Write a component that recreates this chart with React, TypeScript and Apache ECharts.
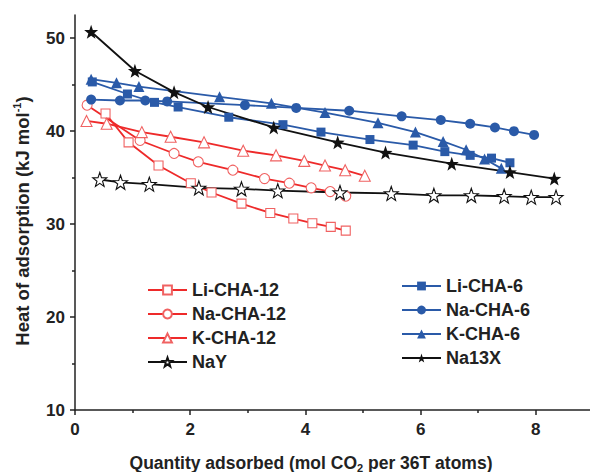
import React, { useEffect, useRef } from "react";
import * as echarts from "echarts";

const li12X = [0.53, 0.93, 1.45, 2.01, 2.37, 2.89, 3.39, 3.79, 4.12, 4.44, 4.70];
const li12Y = [41.9, 38.8, 36.3, 34.4, 33.4, 32.2, 31.2, 30.6, 30.1, 29.7, 29.3];
const na12X = [0.21, 1.13, 1.72, 2.14, 2.74, 3.29, 3.72, 4.10, 4.43, 4.70];
const na12Y = [42.8, 39.0, 37.6, 36.7, 35.8, 34.9, 34.4, 33.9, 33.5, 33.0];
const k12X = [0.20, 0.55, 1.16, 1.66, 2.24, 2.92, 3.49, 3.98, 4.34, 4.69, 5.03];
const k12Y = [41.1, 40.8, 39.9, 39.4, 38.8, 37.9, 37.4, 36.8, 36.3, 35.8, 35.2];
const nayX = [0.43, 0.79, 1.29, 2.15, 2.89, 3.52, 4.60, 5.49, 6.23, 6.88, 7.45, 7.92, 8.35];
const nayY = [34.8, 34.5, 34.3, 33.9, 33.8, 33.6, 33.4, 33.3, 33.1, 33.1, 33.0, 32.9, 32.9];
const li6X = [0.30, 0.91, 1.38, 1.79, 2.67, 3.61, 4.27, 5.12, 5.87, 6.42, 6.86, 7.23, 7.55];
const li6Y = [45.3, 44.0, 43.1, 42.6, 41.5, 40.7, 39.9, 39.1, 38.5, 37.8, 37.4, 37.1, 36.6];
const na6X = [0.28, 0.78, 1.22, 1.60, 2.95, 3.84, 4.76, 5.67, 6.35, 6.86, 7.29, 7.62, 7.97];
const na6Y = [43.4, 43.3, 43.3, 43.2, 42.8, 42.5, 42.2, 41.6, 41.2, 40.8, 40.4, 40.0, 39.6];
const k6X = [0.28, 0.72, 1.11, 2.51, 3.41, 4.34, 5.26, 5.91, 6.39, 6.79, 7.11, 7.40];
const k6Y = [45.6, 45.2, 44.8, 43.7, 43.0, 42.0, 40.9, 39.9, 38.9, 38.0, 37.0, 36.0];
const n13X = [0.28, 1.04, 1.72, 2.31, 3.45, 4.56, 5.39, 6.54, 7.55, 8.32];
const n13Y = [50.7, 46.5, 44.2, 42.6, 40.4, 38.8, 37.7, 36.5, 35.6, 34.9];

const xMajor = [0, 2, 4, 6, 8];
const xMinor = [1, 3, 5, 7];
const yMajor = [10, 20, 30, 40, 50];
const yMinor = [15, 25, 35, 45];

const leftNames = ["Li-CHA-12", "Na-CHA-12", "K-CHA-12", "NaY"];
const rightNames = ["Li-CHA-6", "Na-CHA-6", "K-CHA-6", "Na13X"];

const STAR =
  "path://M0,-10L2.35,-3.24L9.51,-3.09L3.8,1.24L5.88,8.09L0,4.1L-5.88,8.09L-3.8,1.24L-9.51,-3.09L-2.35,-3.24Z";

const RED = "#ee2a2a";
const RED_M = "#f06262";
const BLUE = "#2a5aa8";
const BLACK = "#111111";
const TXT = "#222222";
const FONT = "Liberation Sans, Arial, sans-serif";

const zip = (xs: number[], ys: number[]) => xs.map((x, i) => [x, ys[i]]);

export default function App() {
  const ref = useRef<HTMLDivElement>(null);
  useEffect(() => {
    if (!ref.current) return;
    const chart = echarts.init(ref.current, undefined, { renderer: "svg" });
    const mk = (
      name: string,
      xs: number[],
      ys: number[],
      color: string,
      symbol: string,
      size: number,
      hollow: boolean,
      mColor: string
    ) => ({
      name,
      type: "line",
      data: zip(xs, ys),
      symbol,
      symbolSize: size,
      showAllSymbol: true,
      lineStyle: { color, width: 1.8 },
      itemStyle: hollow
        ? { color: "#ffffff", borderColor: mColor, borderWidth: 1.1 }
        : { color: mColor, borderColor: mColor, borderWidth: 0 },
      emphasis: { disabled: true },
      z: 2,
    });
    const axisCommon = {
      type: "value",
      splitLine: { show: false },
      axisLine: { show: true, lineStyle: { color: TXT, width: 1.5 } },
    };
    const legendCommon = {
      orient: "vertical",
      itemWidth: 39,
      itemHeight: 11,
      itemGap: 6,
      textStyle: { fontSize: 18, fontWeight: "bold", color: TXT, fontFamily: FONT },
      selectedMode: false,
    };
    chart.setOption({
      animation: false,
      backgroundColor: "#ffffff",
      grid: { left: 75, right: 0, top: 15, bottom: 62 },
      xAxis: [
        {
          ...axisCommon,
          min: 0,
          max: 8.94,
          axisTick: { show: true, length: 5, customValues: xMajor, lineStyle: { color: TXT, width: 1.5 } },
          axisLabel: {
            customValues: xMajor,
            fontSize: 17,
            fontWeight: "bold",
            color: TXT,
            fontFamily: FONT,
            margin: 11,
          },
        },
        {
          type: "value",
          min: 0,
          max: 8.94,
          position: "bottom",
          splitLine: { show: false },
          axisLine: { show: false },
          axisLabel: { show: false },
          axisTick: { show: true, length: 3, customValues: xMinor, lineStyle: { color: TXT, width: 1.5 } },
        },
      ],
      yAxis: [
        {
          ...axisCommon,
          min: 10,
          max: 52.5,
          axisTick: { show: true, length: 5, customValues: yMajor, lineStyle: { color: TXT, width: 1.5 } },
          axisLabel: {
            customValues: yMajor,
            fontSize: 17,
            fontWeight: "bold",
            color: TXT,
            fontFamily: FONT,
            margin: 10,
          },
        },
        {
          type: "value",
          min: 10,
          max: 52.5,
          position: "left",
          splitLine: { show: false },
          axisLine: { show: false },
          axisLabel: { show: false },
          axisTick: { show: true, length: 3, customValues: yMinor, lineStyle: { color: TXT, width: 1.5 } },
        },
      ],
      legend: [
        { ...legendCommon, left: 142, top: 276, data: leftNames },
        { ...legendCommon, left: 396, top: 272, data: rightNames },
      ],
      graphic: [
        {
          type: "text",
          x: 311,
          y: 463,
          style: {
            text: "{a|Quantity adsorbed (mol CO}{b|2}{a| per 36T atoms)}",
            align: "center",
            verticalAlign: "middle",
            rich: {
              a: { fontSize: 17.5, fontWeight: "bold", fill: TXT, fontFamily: FONT, lineHeight: 20 },
              b: { fontSize: 11, fontWeight: "bold", fill: TXT, fontFamily: FONT, verticalAlign: "bottom", lineHeight: 14 },
            },
          },
        },
        {
          type: "text",
          x: 22,
          y: 221,
          rotation: Math.PI / 2,
          style: {
            text: "{a|Heat of adsorption (kJ mol}{s|-1}{a|)}",
            align: "center",
            verticalAlign: "middle",
            rich: {
              a: { fontSize: 18.5, fontWeight: "bold", fill: TXT, fontFamily: FONT, lineHeight: 22 },
              s: { fontSize: 11, fontWeight: "bold", fill: TXT, fontFamily: FONT, verticalAlign: "top", lineHeight: 14 },
            },
          },
        },
      ],
      series: [
        mk("Li-CHA-12", li12X, li12Y, RED, "rect", 9, true, RED_M),
        mk("Na-CHA-12", na12X, na12Y, RED, "circle", 10, true, RED_M),
        mk("K-CHA-12", k12X, k12Y, RED, "triangle", 11, true, RED_M),
        mk("NaY", nayX, nayY, BLACK, STAR, 14, true, BLACK),
        mk("Li-CHA-6", li6X, li6Y, BLUE, "rect", 9, false, BLUE),
        mk("Na-CHA-6", na6X, na6Y, BLUE, "circle", 10, false, BLUE),
        mk("K-CHA-6", k6X, k6Y, BLUE, "triangle", 11, false, BLUE),
        mk("Na13X", n13X, n13Y, BLACK, STAR, 14, false, BLACK),
      ],
    });
    return () => chart.dispose();
  }, []);
  return (
    <div
      ref={ref}
      style={{ position: "fixed", left: 0, top: 0, width: 590, height: 472 }}
    />
  );
}
